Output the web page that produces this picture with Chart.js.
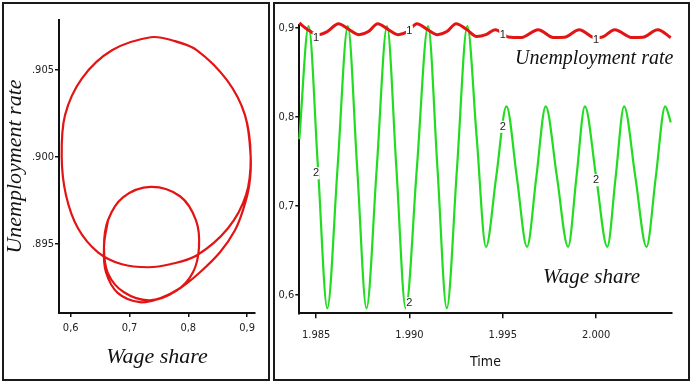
<!DOCTYPE html>
<html>
<head>
<meta charset="utf-8">
<script src="https://cdn.jsdelivr.net/npm/chart.js@4.4.0/dist/chart.umd.min.js"></script>
<style>
  html, body { margin: 0; padding: 0; background: #fff; }
  body { width: 690px; height: 381px; position: relative; overflow: hidden; }
  .panel { position: absolute; border: 2px solid #1a1a1a; }
  #left { left: 2px; top: 2px; width: 264px; height: 375px; }
  #right { left: 273px; top: 2px; width: 413px; height: 375px; }
  canvas { display: block; }
</style>
</head>
<body>
<div class="panel" id="left"><canvas id="phaseChart" width="264" height="375" style="width:264px;height:375px"></canvas></div>
<div class="panel" id="right"><canvas id="timeChart" width="413" height="375" style="width:413px;height:375px"></canvas></div>
<script>
// ---- phase plot (wage share vs unemployment rate) ----
var bigLoopWage  = [0.7750, 0.8148, 0.8658, 0.8964, 0.9061, 0.8981, 0.8675, 0.8148, 0.7689, 0.7315, 0.6872, 0.6464, 0.6124, 0.5920, 0.5847, 0.5903, 0.6192, 0.6702, 0.7361];
var bigLoopUnemp = [0.90668, 0.90613, 0.90441, 0.90240, 0.90000, 0.89780, 0.89590, 0.89435, 0.89383, 0.89366, 0.89383, 0.89452, 0.89590, 0.89780, 0.90000, 0.90240, 0.90452, 0.90613, 0.90688];
var transWage  = [0.9036, 0.8930, 0.8794, 0.8539, 0.8199, 0.7859, 0.7519, 0.7179, 0.6804, 0.6600];
var transUnemp = [0.89837, 0.89694, 0.89579, 0.89452, 0.89337, 0.89245, 0.89188, 0.89165, 0.89217, 0.89337];
var smallLoopWage  = [0.6566, 0.6634, 0.6889, 0.7361, 0.7859, 0.8131, 0.8182, 0.8080, 0.7808, 0.7349, 0.6906, 0.6634];
var smallLoopUnemp = [0.89481, 0.89636, 0.89768, 0.89828, 0.89774, 0.89636, 0.89481, 0.89337, 0.89234, 0.89176, 0.89222, 0.89331];

var phaseWageTicks = [0.6, 0.7, 0.8, 0.9];
var phaseWageLabels = ["0,6", "0,7", "0,8", "0,9"];
var phaseUnempTicks = [0.895, 0.900, 0.905];
var phaseUnempLabels = [".895", ".900", ".905"];

// ---- time series ----
var wageYears = [1984.1, 1984.6, 1985.1, 1985.6, 1986.15, 1986.7, 1987.2, 1987.7, 1988.25, 1988.8, 1989.3, 1989.8, 1990.4, 1991.0, 1991.5, 1992.0, 1992.55, 1993.1,
                 1993.6, 1994.1, 1994.65, 1995.2, 1995.75, 1996.3, 1996.8, 1997.3, 1997.9, 1998.5, 1998.95, 1999.4, 2000.0, 2000.6, 2001.05, 2001.5, 2002.1, 2002.7, 2003.2, 2003.7, 2004.0];
var wageShare = [0.775, 0.902, 0.743, 0.585, 0.743, 0.902, 0.743, 0.585, 0.743, 0.902, 0.743, 0.585, 0.743, 0.902, 0.743, 0.585, 0.743, 0.902,
                 0.778, 0.654, 0.733, 0.812, 0.733, 0.654, 0.733, 0.812, 0.733, 0.654, 0.733, 0.812, 0.733, 0.654, 0.733, 0.812, 0.733, 0.654, 0.733, 0.812, 0.794];

var unempYears = [1984.1, 1984.5, 1985.1, 1985.6, 1986.2, 1986.75, 1987.3, 1987.8, 1988.3, 1988.85, 1989.4, 1989.9, 1990.4, 1990.95, 1991.5, 1992.0, 1992.5, 1993.05,
                  1993.6, 1994.1, 1994.6, 1995.3, 1996.0, 1996.9, 1997.7, 1998.3, 1999.1, 1999.9, 2000.3, 2001.0, 2001.9, 2002.5, 2003.3, 2004.0];
var unempRate = [0.9056, 0.8990, 0.8925, 0.8960, 0.9048, 0.8985, 0.8925, 0.8960, 0.9048, 0.8985, 0.8925, 0.8960, 0.9048, 0.8985, 0.8925, 0.8960, 0.9048, 0.8985,
                 0.8905, 0.8925, 0.8981, 0.8900, 0.8894, 0.8981, 0.8894, 0.8897, 0.8981, 0.8894, 0.8897, 0.8981, 0.8894, 0.8897, 0.8981, 0.8892];

var yearTicks = [1985, 1990, 1995, 2000];
var yearLabels = ["1.985", "1.990", "1.995", "2.000"];
var shareTicks = [0.6, 0.7, 0.8, 0.9];
var shareLabels = ["0,6", "0,7", "0,8", "0,9"];

// curve markers "1" / "2" placed along the lines
var markerYears = [1985, 1990, 1995, 2000];
var unempMarkerValues = [0.8891, 0.8962, 0.8925, 0.8869];
var wageMarkerValues = [0.7367, 0.5907, 0.789, 0.729];

var RED = "#e31414";
var GREEN = "#22dc22";
var tickFont = {family: "'Liberation Sans Narrow', 'DejaVu Sans Condensed', 'Liberation Sans', sans-serif", size: 11};
var serifItalic = "'Liberation Serif', 'DejaVu Serif', serif";

function zip(xs, ys) {
    return xs.map(function (x, i) { return {x: x, y: ys[i]}; });
}

function fixedTicks(values) {
    return function (scale) {
        scale.ticks = values.map(function (v) { return {value: v}; });
    };
}

// one continuous trajectory: big cycle, one more pass to the right side, drift down, then the small cycle twice
var trajectory = []
    .concat(zip(bigLoopWage, bigLoopUnemp))
    .concat(zip(bigLoopWage.slice(0, 5), bigLoopUnemp.slice(0, 5)))
    .concat(zip(transWage, transUnemp))
    .concat(zip(smallLoopWage, smallLoopUnemp))
    .concat(zip(smallLoopWage, smallLoopUnemp))
    .concat(zip(smallLoopWage.slice(0, 2), smallLoopUnemp.slice(0, 2)));

var axisGrid = {display: true, drawOnChartArea: false, drawTicks: true, tickLength: 4, color: "#111", lineWidth: 1.5};
var axisBorder = {display: true, color: "#111", width: 2};

new Chart(document.getElementById("phaseChart").getContext("2d"), {
    type: "scatter",
    data: {
        datasets: [{
            label: "trajectory",
            data: trajectory,
            showLine: true,
            borderColor: RED,
            borderWidth: 2.2,
            pointRadius: 0,
            tension: 0.35,
            fill: false
        }]
    },
    options: {
        responsive: false,
        animation: false,
        layout: {padding: {left: 0, top: 16, right: 13, bottom: 0}},
        plugins: {legend: {display: false}, tooltip: {enabled: false}},
        scales: {
            x: {
                type: "linear",
                min: 0.5801, max: 0.91344,
                afterBuildTicks: fixedTicks(phaseWageTicks),
                afterFit: function (s) { s.height = 66; },
                grid: axisGrid, border: axisBorder,
                ticks: {font: tickFont, color: "#222", padding: 5, maxRotation: 0,
                        callback: function (v, i) { return phaseWageLabels[i]; }},
                title: {display: true, text: "Wage share", color: "#111",
                        font: {family: serifItalic, size: 22, style: "italic", lineHeight: 1.2},
                        padding: {top: 0, bottom: 9}}
            },
            y: {
                type: "linear",
                min: 0.89103, max: 0.90787,
                afterBuildTicks: fixedTicks(phaseUnempTicks),
                afterFit: function (s) { s.width = 55; },
                grid: axisGrid, border: axisBorder,
                ticks: {font: tickFont, color: "#222", padding: 1,
                        callback: function (v, i) { return phaseUnempLabels[i]; }},
                title: {display: true, text: "Unemployment rate", color: "#111",
                        font: {family: serifItalic, size: 22, style: "italic", lineHeight: 1.0},
                        padding: {top: 0, bottom: 0}}
            }
        }
    }
});

var curveTextPlugin = {
    id: "curveText",
    afterDatasetsDraw: function (chart) {
        var ctx = chart.ctx, xs = chart.scales.x, ys = chart.scales.y;
        ctx.save();
        ctx.font = "11px 'Liberation Sans Narrow', 'Liberation Sans', sans-serif";
        ctx.textAlign = "center";
        ctx.textBaseline = "middle";
        function mark(t, v, txt) {
            var px = xs.getPixelForValue(t), py = ys.getPixelForValue(v);
            ctx.fillStyle = "#fff";
            ctx.fillRect(px - 3.5, py - 6, 7, 12);
            ctx.fillStyle = "#222";
            ctx.fillText(txt, px, py);
        }
        markerYears.forEach(function (t, i) {
            mark(t, unempMarkerValues[i], "1");
            mark(t, wageMarkerValues[i], "2");
        });
        ctx.fillStyle = "#111";
        ctx.font = "italic 20px " + serifItalic;
        ctx.fillText("Unemployment rate", xs.getPixelForValue(1999.9), ys.getPixelForValue(0.8655));
        ctx.font = "italic 21px " + serifItalic;
        ctx.fillText("Wage share", xs.getPixelForValue(1999.76), ys.getPixelForValue(0.620));
        ctx.restore();
    }
};

new Chart(document.getElementById("timeChart").getContext("2d"), {
    type: "scatter",
    data: {
        datasets: [{
            label: "Unemployment rate",
            data: zip(unempYears, unempRate),
            showLine: true,
            borderColor: RED,
            borderWidth: 3,
            pointRadius: 0,
            cubicInterpolationMode: "monotone",
            clip: false
        }, {
            label: "Wage share",
            data: zip(wageYears, wageShare),
            showLine: true,
            borderColor: GREEN,
            borderWidth: 2.2,
            pointRadius: 0,
            cubicInterpolationMode: "monotone",
            clip: false
        }]
    },
    options: {
        responsive: false,
        animation: false,
        layout: {padding: {left: 0, top: 20.7, right: 16.3, bottom: 0}},
        plugins: {legend: {display: false}, tooltip: {enabled: false}},
        scales: {
            x: {
                type: "linear",
                min: 1984.1, max: 2004.05,
                afterBuildTicks: fixedTicks(yearTicks),
                afterFit: function (s) { s.height = 65.7; },
                grid: {display: true, drawOnChartArea: false, drawTicks: true, tickLength: 5, color: "#111", lineWidth: 1.5},
                border: axisBorder,
                ticks: {font: tickFont, color: "#222", padding: 10, maxRotation: 0,
                        callback: function (v, i) { return yearLabels[i]; }},
                title: {display: true, text: "Time", color: "#111",
                        font: {family: "'Liberation Sans Narrow', 'DejaVu Sans Condensed', sans-serif", size: 14, lineHeight: 1.2},
                        padding: {top: 0, bottom: 8}}
            },
            y: {
                type: "linear",
                min: 0.5794, max: 0.9037,
                afterBuildTicks: fixedTicks(shareTicks),
                afterFit: function (s) { s.width = 24.3; },
                grid: axisGrid, border: axisBorder,
                ticks: {font: tickFont, color: "#222", padding: 1,
                        callback: function (v, i) { return shareLabels[i]; }}
            }
        }
    },
    plugins: [curveTextPlugin]
});
</script>
</body>
</html>
